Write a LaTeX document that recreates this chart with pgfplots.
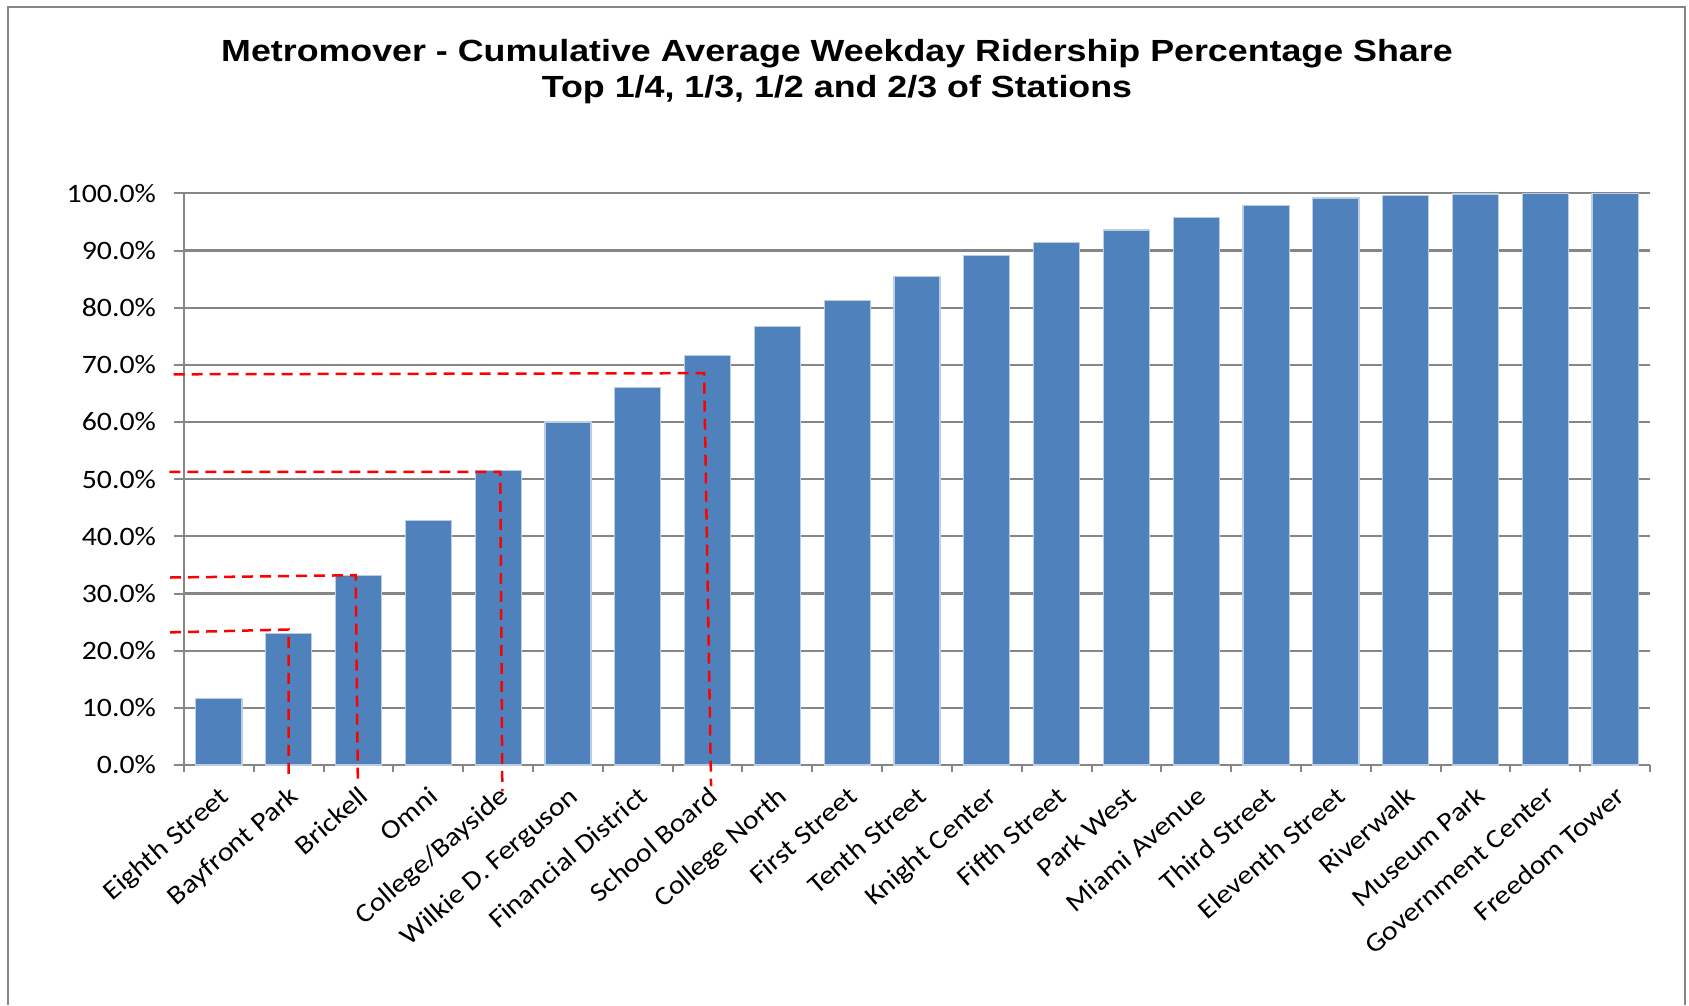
\documentclass[border=0pt]{standalone}
\usepackage{fontspec}
\setmainfont[FakeStretch=1.12]{Carlito}
\newfontfamily\titlefont[FakeStretch=1.17]{Liberation Sans}
\usepackage{pgfplots}
\pgfplotsset{compat=1.18}
\definecolor{barblue}{RGB}{79,129,189}
\definecolor{baredge}{RGB}{185,205,229}
\definecolor{gridgray}{RGB}{134,134,134}
\begin{document}
\begin{tikzpicture}
\path[use as bounding box] (0,0) rectangle (844.5pt,502.5pt);
\draw[gridgray, line width=1.2pt] (4pt,0) -- (4pt,499pt) -- (842.5pt,499pt) -- (842.5pt,0);
\node[anchor=base, inner sep=0pt, font=\titlefont\bfseries\fontsize{15.3}{18}\selectfont] at (418.5pt,471.6pt) {Metromover - Cumulative Average Weekday Ridership Percentage Share};
\node[anchor=base, inner sep=0pt, font=\titlefont\bfseries\fontsize{15.3}{18}\selectfont] at (418.5pt,453.5pt) {Top 1/4, 1/3, 1/2 and 2/3 of Stations};
\begin{axis}[
  at={(92pt,120pt)}, anchor=south west, scale only axis,
  width=733pt, height=285.8pt,
  xmin=-0.5, xmax=20.5, ymin=0, ymax=100,
  axis lines*=left,
  axis line style={gridgray, line width=1pt},
  ymajorgrids, major grid style={gridgray, line width=1.1pt},
  ytick={0,10,...,100},
  yticklabels={0.0\%,10.0\%,20.0\%,30.0\%,40.0\%,50.0\%,60.0\%,70.0\%,80.0\%,90.0\%,100.0\%},
  xtick={0,...,20},
  xticklabels={Eighth Street,Bayfront Park,Brickell,Omni,College/Bayside,Wilkie D. Ferguson,Financial District,School Board,College North,First Street,Tenth Street,Knight Center,Fifth Street,Park West,Miami Avenue,Third Street,Eleventh Street,Riverwalk,Museum Park,Government Center,Freedom Tower},
  minor xtick={-0.5,0.5,...,20.5},
  tick align=outside,
  major tick length=5pt, minor tick length=3.5pt,
  tick style={gridgray, line width=1pt},
  major x tick style={draw=none},
  ticklabel style={font=\fontsize{13.3}{15}\selectfont, text=black},
  yticklabel style={xshift=-5.5pt},
  xticklabel style={rotate=41, anchor=north east},
  clip=false,
]
\addplot[ybar, bar width=0.66, fill=barblue, draw=baredge, line width=0.6pt] coordinates {
(0,11.6) (1,23.0) (2,33.1) (3,42.8) (4,51.5) (5,60.0) (6,66.1) (7,71.7) (8,76.7) (9,81.2)
(10,85.5) (11,89.2) (12,91.4) (13,93.6) (14,95.8) (15,97.9) (16,99.2) (17,99.7) (18,99.9) (19,100) (20,100)
};
\addplot[red, line width=1.25pt, dash pattern=on 5.5pt off 3.5pt, no marks] coordinates {(-0.7,23.2) (1.0,23.7) (1.0,-1.8)};
\addplot[red, line width=1.25pt, dash pattern=on 5.5pt off 3.5pt, no marks] coordinates {(-0.7,32.8) (1.96,33.2) (1.99,-2.8)};
\addplot[red, line width=1.25pt, dash pattern=on 5.5pt off 3.5pt, no marks] coordinates {(-0.71,51.3) (4.03,51.3) (4.06,-4.6)};
\addplot[red, line width=1.25pt, dash pattern=on 5.5pt off 3.5pt, no marks] coordinates {(-0.65,68.35) (6.95,68.55) (7.05,-3.7)};
\end{axis}
\end{tikzpicture}
\end{document}
